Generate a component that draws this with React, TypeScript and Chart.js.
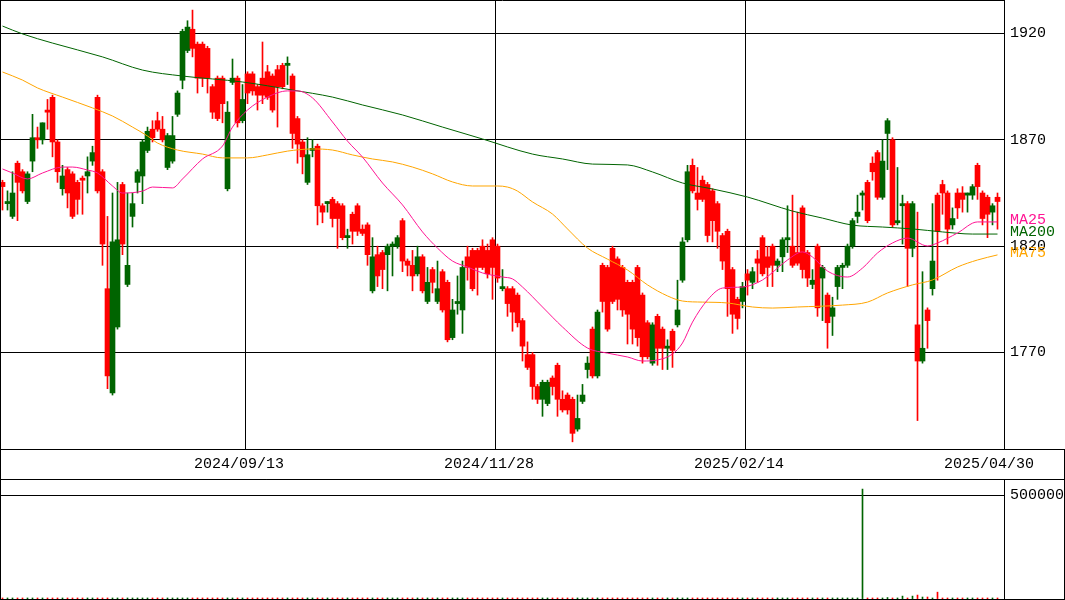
import React, { useEffect, useRef } from "react";
import { Chart, registerables } from "chart.js";

Chart.register(...registerables);

// ---- Daily OHLC (one candle per trading day, oldest first) ----
const opens = [
  1850, 1840, 1834, 1859, 1855, 1841, 1860, 1871, 1870, 1884, 1890, 1869, 1847, 1856, 1854, 1850, 1852, 1853, 1860, 1890,
  1855, 1800, 1751, 1782, 1849, 1802, 1834, 1850, 1853, 1865, 1875, 1879, 1875, 1857, 1860, 1882, 1898, 1912, 1922, 1915,
  1915, 1913, 1895, 1899, 1899, 1847, 1897, 1899, 1879, 1901, 1901, 1895, 1899, 1902, 1900, 1903, 1905, 1905, 1900, 1880,
  1869, 1850, 1865, 1867, 1839, 1840, 1842, 1840, 1839, 1824, 1835, 1839, 1828, 1830, 1799, 1816, 1817, 1816, 1820, 1820,
  1832, 1813, 1811, 1807, 1815, 1794, 1809, 1794, 1808, 1803, 1777, 1793, 1790, 1815, 1818, 1818, 1820, 1818, 1823, 1820,
  1800, 1800, 1800, 1797, 1785, 1769, 1769, 1754, 1748, 1746, 1758, 1764, 1748, 1750, 1748, 1734, 1747, 1762, 1781, 1759,
  1811, 1810, 1819, 1814, 1810, 1803, 1803, 1810, 1797, 1784, 1765, 1787, 1781, 1772, 1780, 1783, 1804, 1823, 1858, 1845,
  1851, 1849, 1846, 1840, 1825, 1827, 1809, 1795, 1794, 1807, 1803, 1814, 1824, 1815, 1820, 1811, 1815, 1823, 1820, 1817,
  1838, 1817, 1802, 1820, 1805, 1797, 1787, 1801, 1810, 1811, 1820, 1834, 1844, 1850, 1859, 1864, 1843, 1873, 1870, 1831,
  1839, 1840, 1819, 1783, 1766, 1790, 1800, 1844, 1849, 1845, 1830, 1845, 1845, 1844, 1844, 1858, 1845, 1843, 1836, 1843,
];
const highs = [
  1851, 1846, 1855, 1860, 1856, 1855, 1882, 1876, 1878, 1889, 1891, 1870, 1858, 1857, 1855, 1851, 1853, 1862, 1867, 1891,
  1856, 1834, 1845, 1850, 1850, 1845, 1845, 1856, 1870, 1876, 1879, 1883, 1881, 1873, 1881, 1893, 1922, 1926, 1931, 1916,
  1916, 1914, 1896, 1900, 1900, 1888, 1908, 1900, 1896, 1902, 1902, 1896, 1916, 1905, 1901, 1905, 1906, 1909, 1901, 1881,
  1870, 1871, 1870, 1868, 1840, 1841, 1843, 1841, 1840, 1828, 1836, 1840, 1830, 1831, 1824, 1820, 1818, 1821, 1822, 1825,
  1833, 1814, 1818, 1820, 1816, 1810, 1810, 1813, 1809, 1804, 1795, 1806, 1813, 1820, 1819, 1819, 1823, 1821, 1824, 1821,
  1809, 1801, 1801, 1798, 1786, 1775, 1770, 1755, 1757, 1757, 1759, 1765, 1752, 1751, 1749, 1750, 1755, 1768, 1782, 1790,
  1812, 1811, 1820, 1815, 1811, 1804, 1804, 1811, 1798, 1785, 1784, 1788, 1782, 1776, 1781, 1804, 1824, 1858, 1861, 1857,
  1853, 1850, 1847, 1841, 1826, 1828, 1810, 1796, 1803, 1809, 1810, 1818, 1825, 1820, 1821, 1814, 1824, 1839, 1844, 1836,
  1839, 1818, 1809, 1821, 1811, 1798, 1796, 1811, 1812, 1821, 1833, 1844, 1846, 1851, 1862, 1865, 1870, 1880, 1871, 1857,
  1844, 1841, 1841, 1836, 1808, 1791, 1840, 1845, 1851, 1846, 1838, 1847, 1848, 1845, 1849, 1859, 1846, 1844, 1840, 1845,
];
const lows = [
  1837, 1837, 1833, 1832, 1845, 1840, 1855, 1866, 1868, 1875, 1862, 1850, 1844, 1838, 1833, 1835, 1835, 1845, 1858, 1845,
  1811, 1753, 1750, 1781, 1816, 1801, 1829, 1845, 1840, 1864, 1869, 1874, 1869, 1856, 1859, 1881, 1894, 1911, 1909, 1892,
  1895, 1892, 1880, 1879, 1878, 1846, 1896, 1876, 1878, 1887, 1891, 1884, 1887, 1889, 1883, 1876, 1894, 1896, 1866, 1859,
  1854, 1849, 1862, 1830, 1831, 1836, 1829, 1819, 1823, 1819, 1821, 1825, 1825, 1811, 1798, 1801, 1800, 1799, 1806, 1819,
  1808, 1806, 1799, 1806, 1798, 1793, 1798, 1793, 1789, 1775, 1776, 1788, 1779, 1804, 1799, 1797, 1809, 1805, 1795, 1803,
  1799, 1787, 1780, 1782, 1766, 1762, 1748, 1746, 1740, 1745, 1750, 1740, 1742, 1741, 1728, 1733, 1746, 1758, 1758, 1758,
  1789, 1780, 1793, 1790, 1787, 1774, 1774, 1773, 1765, 1767, 1764, 1764, 1762, 1762, 1763, 1782, 1803, 1822, 1845, 1837,
  1841, 1822, 1822, 1819, 1809, 1787, 1779, 1781, 1791, 1797, 1800, 1803, 1806, 1801, 1801, 1808, 1808, 1817, 1810, 1811,
  1805, 1801, 1800, 1787, 1785, 1772, 1778, 1795, 1800, 1810, 1819, 1831, 1837, 1831, 1851, 1842, 1842, 1856, 1829, 1830,
  1821, 1801, 1815, 1738, 1765, 1772, 1797, 1804, 1835, 1821, 1828, 1833, 1836, 1836, 1842, 1842, 1830, 1824, 1830, 1828,
];
const closes = [
  1848, 1841, 1845, 1850, 1846, 1854, 1871, 1870, 1878, 1883, 1869, 1855, 1853, 1845, 1834, 1842, 1851, 1855, 1864, 1846,
  1821, 1759, 1822, 1823, 1821, 1811, 1840, 1855, 1869, 1874, 1871, 1875, 1870, 1872, 1872, 1892, 1921, 1923, 1913, 1899,
  1899, 1899, 1883, 1880, 1887, 1883, 1899, 1878, 1889, 1892, 1893, 1891, 1891, 1890, 1884, 1895, 1895, 1906, 1873, 1868,
  1862, 1863, 1866, 1839, 1836, 1841, 1833, 1833, 1824, 1825, 1827, 1827, 1826, 1816, 1815, 1806, 1809, 1820, 1821, 1824,
  1813, 1811, 1806, 1815, 1799, 1803, 1803, 1800, 1790, 1776, 1790, 1794, 1810, 1810, 1800, 1810, 1810, 1807, 1810, 1805,
  1801, 1793, 1789, 1784, 1773, 1763, 1754, 1748, 1756, 1756, 1754, 1748, 1743, 1743, 1732, 1739, 1750, 1765, 1759, 1789,
  1794, 1781, 1794, 1795, 1790, 1788, 1781, 1777, 1768, 1768, 1783, 1772, 1772, 1773, 1771, 1790, 1822, 1855, 1846, 1842,
  1842, 1825, 1832, 1827, 1813, 1800, 1788, 1786, 1801, 1804, 1808, 1812, 1807, 1810, 1811, 1813, 1823, 1824, 1811, 1812,
  1809, 1805, 1804, 1791, 1810, 1784, 1791, 1810, 1811, 1820, 1832, 1836, 1845, 1832, 1855, 1843, 1860, 1879, 1830, 1832,
  1840, 1819, 1840, 1766, 1772, 1785, 1813, 1827, 1845, 1828, 1833, 1838, 1842, 1845, 1848, 1848, 1833, 1835, 1839, 1841,
];
const volumes = [
  5000, 5000, 5000, 5000, 5000, 5000, 5000, 5000, 5000, 5000, 5000, 5000, 5000, 5000, 5000, 5000, 5000, 5000, 5000, 5000,
  5000, 5000, 5000, 5000, 5000, 5000, 5000, 5000, 5000, 5000, 5000, 5000, 5000, 5000, 5000, 5000, 5000, 5000, 5000, 5000,
  5000, 5000, 5000, 5000, 5000, 5000, 5000, 5000, 5000, 5000, 5000, 5000, 5000, 5000, 5000, 5000, 5000, 5000, 5000, 5000,
  5000, 5000, 5000, 5000, 5000, 5000, 5000, 5000, 5000, 5000, 5000, 5000, 5000, 5000, 5000, 5000, 5000, 5000, 5000, 5000,
  5000, 5000, 5000, 5000, 5000, 5000, 5000, 5000, 5000, 5000, 5000, 5000, 5000, 5000, 5000, 5000, 5000, 5000, 5000, 5000,
  5000, 5000, 5000, 5000, 5000, 5000, 5000, 5000, 5000, 5000, 5000, 5000, 5000, 5000, 5000, 5000, 5000, 5000, 5000, 5000,
  5000, 5000, 5000, 5000, 5000, 5000, 5000, 5000, 5000, 5000, 5000, 5000, 5000, 5000, 5000, 5000, 5000, 5000, 5000, 5000,
  5000, 5000, 5000, 5000, 5000, 5000, 5000, 5000, 5000, 5000, 5000, 5000, 5000, 5000, 5000, 5000, 5000, 5000, 5000, 5000,
  5000, 5000, 5000, 5000, 5000, 5000, 5000, 5000, 5000, 5000, 5000, 5000, 531000, 5000, 5000, 5000, 5000, 7000, 5000, 5000,
  14000, 5000, 14000, 19000, 9500, 9500, 5000, 33000, 5000, 5000, 5000, 5000, 5000, 5000, 5000, 5000, 5000, 5000, 5000, 5000,
];

// ---- Moving averages: [candle index, value] ----
const ma25: [number, number][] = [
  [0, 1856.3], [2, 1854.4], [5, 1851.6], [8, 1854.4], [12, 1857.2], [14, 1857.2], [17, 1855.8], [19, 1854.4],
  [22, 1848.3], [24, 1845.0], [28, 1845.9], [30, 1847.8], [34, 1847.4], [36, 1851.6], [40, 1861.0], [44, 1867.1],
  [46, 1876.0], [49, 1884.0], [53, 1890.1], [57, 1893.0], [59, 1893.0], [62, 1889.7], [66, 1878.4], [69, 1869.4],
  [72, 1861.9], [76, 1849.7], [80, 1839.4], [84, 1826.7], [87, 1819.1], [90, 1813.0], [93, 1810.2], [96, 1807.4],
  [100, 1805.5], [102, 1804.6], [104, 1800.8], [108, 1791.4], [112, 1782.0], [117, 1772.1], [121, 1769.7],
  [125, 1767.9], [128, 1766.0], [131, 1766.5], [134, 1769.3], [136, 1774.5], [138, 1784.3], [141, 1794.7],
  [144, 1800.3], [148, 1800.8], [152, 1804.1], [157, 1813.5], [160, 1817.3], [162, 1814.9], [165, 1808.3],
  [169, 1805.5], [172, 1809.7], [175, 1816.8], [178, 1821.5], [181, 1823.8], [185, 1820.1], [187, 1821.5],
  [191, 1826.2], [195, 1831.4], [199, 1831.4],
];
const ma75: [number, number][] = [
  [0, 1901.9], [4, 1898.1], [7, 1894.4], [12, 1890.1], [18, 1885.0], [22, 1881.2], [26, 1876.0], [29, 1871.8],
  [31, 1868.5], [35, 1865.2], [40, 1863.3], [44, 1861.5], [49, 1861.5], [53, 1862.9], [57, 1864.7], [62, 1865.7],
  [66, 1865.2], [70, 1862.9], [74, 1861.0], [78, 1859.6], [82, 1857.2], [86, 1854.0], [90, 1850.2], [94, 1848.3],
  [99, 1848.3], [101, 1847.8], [103, 1845.9], [106, 1840.8], [110, 1835.1], [113, 1828.1], [117, 1819.1],
  [121, 1813.9], [125, 1808.8], [129, 1801.8], [133, 1796.6], [136, 1794.2], [140, 1793.7], [145, 1793.3],
  [150, 1791.4], [154, 1790.9], [159, 1791.4], [168, 1792.3], [173, 1793.7], [177, 1798.0], [182, 1801.8],
  [186, 1804.1], [191, 1810.2], [195, 1813.5], [199, 1815.9],
];
const ma200: [number, number][] = [
  [0, 1923.5], [4, 1919.8], [10, 1915.5], [20, 1909.0], [28, 1902.8], [36, 1900.0], [48, 1897.2], [58, 1893.4],
  [66, 1890.1], [72, 1886.4], [80, 1881.7], [88, 1876.0], [96, 1870.4], [106, 1863.3], [112, 1861.0], [118, 1858.6],
  [125, 1858.2], [130, 1854.9], [136, 1849.7], [142, 1846.9], [149, 1843.1], [158, 1836.5], [164, 1833.2],
  [170, 1829.9], [176, 1829.0], [182, 1828.1], [188, 1826.7], [194, 1825.7], [199, 1825.7],
];

const priceTicks = [1770, 1820, 1870, 1920];
const volumeTicks = [500000];
const dateLabels = ["2024/09/13", "2024/11/28", "2025/02/14", "2025/04/30"];
const dateIndex = [49, 99, 149, 199];

const UP = "#006400";
const DOWN = "#ff0000";
const FONT = { family: "'Liberation Mono', 'DejaVu Sans Mono', monospace", size: 15 };
const X_MIN = -0.5;
const X_MAX = 200.3;

const idx = opens.map((_, i) => i);
const candleColors = idx.map((i) => (closes[i] >= opens[i] ? UP : DOWN));

const framePlugin = (kind: "main" | "vol") => ({
  id: "frame_" + kind,
  afterDraw(chart: any) {
    const ctx = chart.ctx;
    const { left, right, top, bottom } = chart.chartArea;
    const W = chart.width;
    const H = chart.height;
    ctx.save();
    ctx.strokeStyle = "#000";
    ctx.lineWidth = 1;
    ctx.beginPath();
    if (kind === "main") {
      ctx.moveTo(left, top + 0.5);
      ctx.lineTo(right + 1, top + 0.5);
      ctx.moveTo(0.5, 0);
      ctx.lineTo(0.5, H);
      ctx.moveTo(0, bottom + 0.5);
      ctx.lineTo(W, bottom + 0.5);
      ctx.moveTo(0, H - 0.5);
      ctx.lineTo(W, H - 0.5);
      ctx.moveTo(W - 0.5, bottom);
      ctx.lineTo(W - 0.5, H);
    } else {
      ctx.moveTo(0, 0.5);
      ctx.lineTo(W, 0.5);
      ctx.moveTo(0.5, 0);
      ctx.lineTo(0.5, H);
      ctx.moveTo(W - 0.5, 0);
      ctx.lineTo(W - 0.5, H);
      ctx.moveTo(0, bottom + 0.5);
      ctx.lineTo(W, bottom + 0.5);
    }
    ctx.stroke();

    if (kind === "main") {
      ctx.font = `${FONT.size}px ${FONT.family}`;
      ctx.textAlign = "left";
      ctx.textBaseline = "middle";
      chart.data.datasets.forEach((ds: any, di: number) => {
        if (ds.type !== "line") return;
        const meta = chart.getDatasetMeta(di);
        const last = meta.data[meta.data.length - 1];
        if (!last) return;
        ctx.fillStyle = ds.borderColor;
        ctx.fillText(ds.label, right + 6, last.y - 2);
      });
    }
    ctx.restore();
  },
});

export default function App() {
  const mainRef = useRef<HTMLCanvasElement>(null);
  const volRef = useRef<HTMLCanvasElement>(null);

  useEffect(() => {
    if (!mainRef.current || !volRef.current) return;
    Chart.defaults.font.family = FONT.family;

    const lineDs = (label: string, pts: [number, number][], color: string) => ({
      type: "line" as const,
      label,
      data: pts.map(([x, y]) => ({ x, y })),
      borderColor: color,
      backgroundColor: color,
      borderWidth: 1,
      pointRadius: 0,
      cubicInterpolationMode: "monotone" as const,
      order: 0,
    });

    const main = new Chart(mainRef.current, {
      type: "bar",
      data: {
        datasets: [
          lineDs("MA25", ma25, "#ff1493"),
          lineDs("MA200", ma200, "#006400"),
          lineDs("MA75", ma75, "#ffa500"),
          {
            type: "bar",
            label: "wick",
            data: idx.map((i) => ({ x: i, y: [lows[i], highs[i]] })) as any,
            backgroundColor: candleColors,
            borderWidth: 0,
            barThickness: 1,
            grouped: false,
            order: 2,
          } as any,
          {
            type: "bar",
            label: "body",
            data: idx.map((i) => ({ x: i, y: [opens[i], closes[i]] })) as any,
            backgroundColor: candleColors,
            borderWidth: 0,
            barThickness: 5,
            minBarLength: 1,
            grouped: false,
            order: 1,
          } as any,
        ],
      },
      options: {
        animation: false,
        responsive: false,
        events: [],
        layout: { padding: 0, autoPadding: false },
        plugins: { legend: { display: false }, tooltip: { enabled: false }, title: { display: false } },
        scales: {
          x: {
            type: "linear",
            min: X_MIN,
            max: X_MAX,
            offset: false,
            afterBuildTicks: (s: any) => {
              s.ticks = dateIndex.map((d) => ({ value: d - 0.4 }));
            },
            grid: {
              offset: false,
              drawTicks: false,
              lineWidth: 1,
              color: (c: any) => (c.index === dateIndex.length - 1 ? "rgba(0,0,0,0)" : "#000"),
            },
            border: { display: true, color: "#000", width: 1 },
            ticks: {
              autoSkip: false,
              maxRotation: 0,
              minRotation: 0,
              color: "#000",
              font: FONT,
              padding: 6,
              labelOffset: -6.5,
              callback: (_v: any, i: number) => dateLabels[i],
            },
            afterFit: (s: any) => {
              s.height = 31;
              s.paddingLeft = 0;
              s.paddingRight = 0;
            },
          } as any,
          y: {
            type: "linear",
            position: "right",
            min: 1724.63,
            max: 1935.75,
            afterBuildTicks: (s: any) => {
              s.ticks = priceTicks.map((v) => ({ value: v }));
            },
            grid: { color: "#000", lineWidth: 1, drawTicks: false },
            border: { display: true, color: "#000", width: 1 },
            ticks: { color: "#000", font: FONT, padding: 6, callback: (v: any) => String(v) },
            afterFit: (s: any) => {
              s.width = 61;
              s.paddingTop = 0;
              s.paddingBottom = 0;
            },
          } as any,
        },
      },
      plugins: [framePlugin("main")],
    });

    const vol = new Chart(volRef.current, {
      type: "bar",
      data: {
        datasets: [
          {
            type: "bar",
            label: "volume",
            data: idx.map((i) => ({ x: i, y: volumes[i] })) as any,
            backgroundColor: candleColors,
            borderWidth: 0,
            barThickness: 1,
            grouped: false,
          } as any,
        ],
      },
      options: {
        animation: false,
        responsive: false,
        events: [],
        layout: { padding: 0, autoPadding: false },
        plugins: { legend: { display: false }, tooltip: { enabled: false }, title: { display: false } },
        scales: {
          x: {
            type: "linear",
            min: X_MIN,
            max: X_MAX,
            offset: false,
            grid: { display: false, offset: false, drawTicks: false },
            border: { display: true, color: "#000", width: 1 },
            ticks: { display: false },
            afterFit: (s: any) => {
              s.height = 1;
              s.paddingLeft = 0;
              s.paddingRight = 0;
            },
          } as any,
          y: {
            type: "linear",
            position: "right",
            min: 0,
            max: 579710,
            afterBuildTicks: (s: any) => {
              s.ticks = volumeTicks.map((v) => ({ value: v }));
            },
            grid: { color: "#000", lineWidth: 1, drawTicks: false },
            border: { display: true, color: "#000", width: 1 },
            ticks: { color: "#000", font: FONT, padding: 6, callback: (v: any) => String(v) },
            afterFit: (s: any) => {
              s.width = 61;
              s.paddingTop = 0;
              s.paddingBottom = 0;
            },
          } as any,
        },
      },
      plugins: [framePlugin("vol")],
    });

    return () => {
      main.destroy();
      vol.destroy();
    };
  }, []);

  return (
    <div style={{ position: "absolute", left: 0, top: 0, width: 1065, height: 600, background: "#fff" }}>
      <canvas ref={mainRef} width={1065} height={480} style={{ position: "absolute", left: 0, top: 0, display: "block" }} />
      <canvas ref={volRef} width={1065} height={121} style={{ position: "absolute", left: 0, top: 479, display: "block" }} />
    </div>
  );
}
